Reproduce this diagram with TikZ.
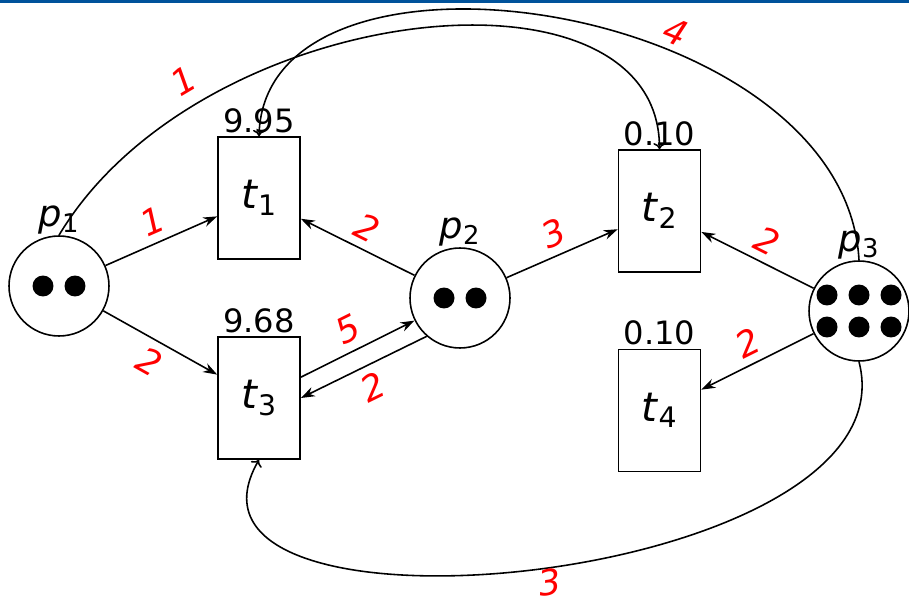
\documentclass[tikz,border=0pt]{standalone}
\usepackage{fontspec}
\setmainfont{DejaVu Sans}
\usetikzlibrary{calc,arrows.meta}
\definecolor{framebar}{RGB}{0,82,155}

\begin{document}
\begin{tikzpicture}[x=0.02cm,y=-0.02cm,line width=0.9pt,
  place/.style={circle,draw,minimum size=2cm,inner sep=0pt,
    label={[font=\fontsize{21}{24}\selectfont,label distance=-3pt]above:#1}},
  transition/.style={rectangle,draw,minimum width=1.64cm,minimum height=2.44cm,
    font=\fontsize{23}{26}\selectfont,
    label={[font=\fontsize{18.3}{21}\selectfont,inner sep=1.5pt]above:#1}},
  token/.style={fill=black},
  arc/.style={-{Stealth[length=8pt,width=5.5pt]}},
  bent arc/.style={-{To[length=3.5pt,width=7pt]}},
  weight/.style={red,font=\fontsize{20}{23}\selectfont\itshape,sloped}]
\useasboundingbox (0,0) rectangle (909,604);
\fill[framebar] (0,0) rectangle (909,3.5);

\node[place=\textit{p}\textsubscript{1}] (p1) at (59,286) {};
\node[place=\textit{p}\textsubscript{2}] (p2) at (460,298) {};
\node[place=\textit{p}\textsubscript{3}] (p3) at (859,311) {};
\node[transition=9.95] (t1) at (259,198) {\textit{t}\textsubscript{1}};
\node[transition=9.68] (t3) at (259,398) {\textit{t}\textsubscript{3}};
\node[transition=0.10] (t2) at (659.5,211) {\textit{t}\textsubscript{2}};
\node[transition=0.10] (t4) at (659.5,410.5) {\textit{t}\textsubscript{4}};

\foreach \dx in {-16,16} {
  \fill[token] ($(p1)+(\dx,0)$) circle[radius=0.21cm];
  \fill[token] ($(p2)+(\dx,0)$) circle[radius=0.21cm];
}
\foreach \dx in {-32,0,32}
  \foreach \dy in {-16,16}
    \fill[token] ($(p3)+(\dx,\dy)$) circle[radius=0.21cm];

\draw[arc] (p1) -- node[weight,above=1pt] {1} (t1);
\draw[arc] (p1) -- node[weight,below=1pt] {2} (t3);
\draw[arc] (p2) -- node[weight,above=1pt] {2} (t1);
\draw[arc] (p2) -- node[weight,above=1pt] {3} (t2);
\draw[arc] (p3) -- node[weight,above=1pt] {2} (t2);
\draw[arc] (p3) -- node[weight,above=1pt] {2} (t4);
\draw[arc] (t3) -- node[weight,above=1pt] {5} (p2);
\draw[arc] (p2.229) -- node[weight,below=1pt] {2} (t3.east);

\draw[bent arc] (p1.north) .. controls (200,0) and (659,-50) .. node[weight,pos=0.23,above=4pt] {1} (t2.north);
\draw[bent arc] (p3.north) .. controls (845,0) and (265,-85) .. node[weight,pos=0.37,above=0pt] {4} (t1.north);
\draw[bent arc] (p3.south) .. controls (917,585) and (144,659) .. node[weight,pos=0.49,below=-3pt] {3} (t3.south);
\end{tikzpicture}
\end{document}
